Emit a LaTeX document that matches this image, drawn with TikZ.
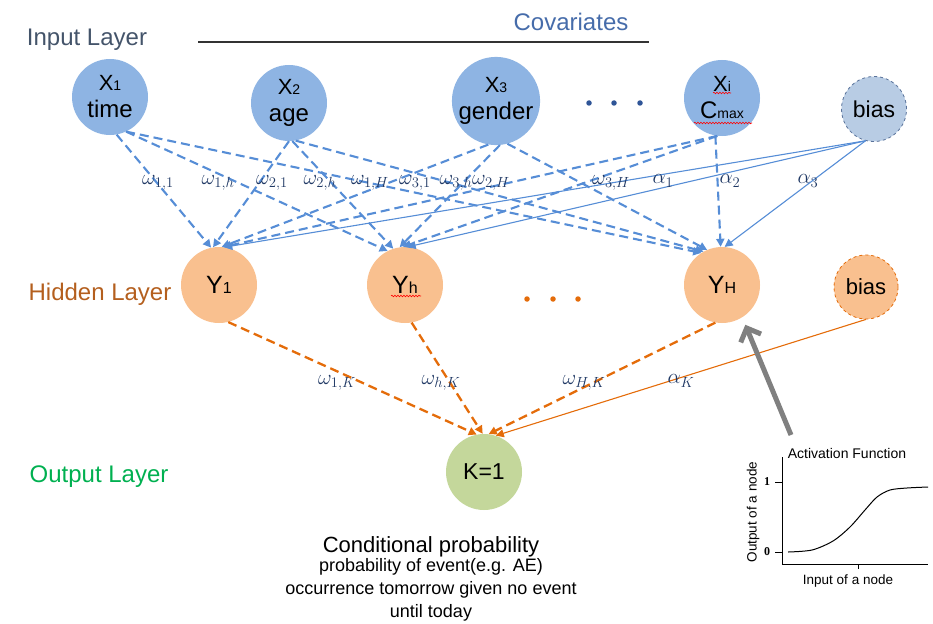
\RequirePackage{fix-cm}
\documentclass[tikz,border=0pt]{standalone}
\usepackage{fontspec}
\setmainfont{Liberation Sans}
\newfontfamily\serifnum{Liberation Serif}
\usetikzlibrary{arrows.meta,decorations.pathmorphing}
\definecolor{inblue}{RGB}{142,180,227}
\definecolor{biasblue}{RGB}{184,204,228}
\definecolor{biasedge}{RGB}{90,115,155}
\definecolor{hidor}{RGB}{249,192,143}
\definecolor{outgreen}{RGB}{196,215,155}
\definecolor{edgeblue}{RGB}{86,141,214}
\definecolor{edgeor}{RGB}{228,108,10}
\definecolor{lblue}{RGB}{31,56,100}
\definecolor{inlayer}{RGB}{68,84,106}
\definecolor{covcol}{RGB}{70,108,170}
\definecolor{hidlayer}{RGB}{180,95,30}
\definecolor{outlayer}{RGB}{0,176,80}
\definecolor{dotblue}{RGB}{47,85,151}
\definecolor{arrgray}{RGB}{128,128,128}
\newcommand\smidx[1]{{\fontsize{14}{14}\selectfont #1}}
\newcommand\smidy[1]{{\fontsize{16}{16}\selectfont #1}}
\newcommand\fs[1]{\fontsize{#1}{#1}\selectfont}
\newcommand\bigX{{\fontsize{22}{22}\selectfont X}}
\tikzset{
  innode/.style={circle, fill=inblue, minimum size=76pt, inner sep=0pt, align=center, font=\fontsize{24}{27}\selectfont},
  biasin/.style={circle, fill=biasblue, draw=biasedge, dashed, line width=0.8pt, minimum size=65pt, inner sep=0pt, font=\fs{23}},
  hidnode/.style={circle, fill=hidor, minimum size=76pt, inner sep=0pt, font=\fs{25}},
  biashid/.style={circle, fill=hidor, draw=edgeor, dashed, line width=0.8pt, minimum size=64pt, inner sep=0pt, font=\fs{22}},
  outnode/.style={circle, fill=outgreen, minimum size=76pt, inner sep=0pt, font=\fs{23}},
  tip/.style={-{Triangle[length=8pt,width=8pt]}},
  ein/.style={edgeblue, line width=2.1pt, dash pattern=on 9pt off 5pt, tip},
  ebias/.style={edgeblue, line width=1.1pt, tip},
  eout/.style={edgeor, line width=2.3pt, dash pattern=on 9pt off 5pt, tip},
  eoutb/.style={edgeor, line width=1.1pt, tip},
  wl/.style={text=lblue, font=\fs{21}, inner sep=0pt},
  layer/.style={anchor=base, font=\fs{24}, inner sep=0pt},
  dotc/.style={circle, inner sep=0pt, minimum size=5.5pt},
  squig/.style={red, line width=0.6pt, decorate, decoration={snake, amplitude=0.8pt, segment length=3pt}},
  plottext/.style={font=\fs{13.5}, inner sep=0pt},
}
\begin{document}
\begin{tikzpicture}[x=1pt,y=-1pt]
\useasboundingbox (0,0) rectangle (933,623);

% layer titles
\node[layer, text=inlayer] (tin) at (87,46) {Input Layer};
\node[layer, text=covcol] (tcov) at (571,31) {Covariates};
\draw[line width=1.2pt, black!80] (198,42) -- (649,42);
\node[layer, text=hidlayer] (thid) at (100,300) {Hidden Layer};
\node[layer, text=outlayer] (tout) at (99,482) {Output Layer};

% input nodes
\node[innode] (x1) at (110,97) {\bigX\smidx{1}\\time};
\node[innode] (x2) at (289,103) {\bigX\smidx{2}\\age};
\node[innode, minimum size=79pt] (x3) at (496,101) {\bigX\smidx{3}\\gender};
\node[innode] (xi) at (722,98) {\bigX\smidx{i}\\C\smidx{max}};
\node[biasin] (bin) at (874,109) {bias};
\node[dotc, fill=dotblue] (d1) at (589,103) {};
\node[dotc, fill=dotblue] (d2) at (614,103) {};
\node[dotc, fill=dotblue] (d3) at (640,103) {};

% hidden nodes
\node[hidnode] (Y1) at (219,285) {Y\smidy{1}};
\node[hidnode] (Yh) at (405,285) {Y\smidy{h}};
\node[hidnode] (YH) at (722,285) {Y\smidy{H}};
\node[biashid] (bh) at (866,287) {bias};
\node[dotc, fill=edgeor] (e1) at (527,299) {};
\node[dotc, fill=edgeor] (e2) at (553,299) {};
\node[dotc, fill=edgeor] (e3) at (578,299) {};

% output
\node[outnode] (K) at (484,472) {K=1};

% spell-check squiggles
\draw[squig] (713,93) -- (731,93);
\draw[squig] (694,123) -- (752,123);
\draw[squig] (391,296) -- (421,296);

% input -> hidden
\draw[ein] (x1.-80) -- (Y1.102);
\draw[ein] (x1.-65) -- (Yh.117);
\draw[ein] (x1.-65) -- (YH.123);
\draw[ein] (x2.-90) -- (Y1.99);
\draw[ein] (x2.-85) -- (Yh.108);
\draw[ein] (x2.-80) -- (YH.119);
\draw[ein] (x3.-100) -- (Y1.86);
\draw[ein] (x3.-85) -- (Yh.98);
\draw[ein] (x3.-75) -- (YH.113);
\draw[ein] (xi.-97) -- (Y1.84);
\draw[ein] (xi.-97) -- (Yh.93);
\draw[ein] (xi.-100) -- (YH.92);
\draw[ebias] (bin.-105) -- (Y1.82);
\draw[ebias] (bin.-105) -- (Yh.86);
\draw[ebias] (bin.-105) -- (YH.86);

% hidden -> output
\draw[eout] (Y1.-76) -- (K.101);
\draw[eout] (Yh.-80) -- (K.92);
\draw[eout] (YH.-100) -- (K.83);
\draw[eoutb] (bh.-90) -- (K.72);

% weight labels
\node[wl] (w11) at (158,183) {$\omega_{1,1}$};
\node[wl] (w1h) at (218,183) {$\omega_{1,h}$};
\node[wl] (w21) at (272,183) {$\omega_{2,1}$};
\node[wl] (w2h) at (320,183) {$\omega_{2,h}$};
\node[wl] (w1H) at (370,183) {$\omega_{1,H}$};
\node[wl] (w31) at (415,183) {$\omega_{3,1}$};
\node[wl] (w3h) at (456,183) {$\omega_{3,h}$};
\node[wl] (w2H) at (491,183) {$\omega_{2,H}$};
\node[wl] (w3H) at (611,183) {$\omega_{3,H}$};
\node[wl] (a1) at (663,181) {$\alpha_1$};
\node[wl] (a2) at (730,181) {$\alpha_2$};
\node[wl] (a3) at (808,181) {$\alpha_3$};
\node[wl] (w1K) at (337,383) {$\omega_{1,K}$};
\node[wl] (whK) at (441,383) {$\omega_{h,K}$};
\node[wl] (wHK) at (584,383) {$\omega_{H,K}$};
\node[wl] (aK) at (681,381) {$\alpha_K$};

% gray activation arrow
\coordinate (gtail) at (791,435);
\draw[arrgray, line width=5pt, -{Straight Barb[length=11pt,width=22pt]}, shorten >=8pt] (gtail) -- (YH.-58);

% activation plot
\draw[line width=0.8pt] (782,457) -- (782,564) -- (928,564);
\draw[line width=0.8pt] (775,482) -- (782,482);
\draw[line width=0.8pt] (775,552) -- (782,552);
\draw[line width=0.8pt] (858,564) -- (858,569);
\draw[line width=1pt] plot[smooth] coordinates {(788,552) (812,550) (833,541) (850,527) (865,510) (877,497) (890,490) (907,488) (928,487)};
\node[plottext, font=\serifnum\bfseries\fs{12}] (t1) at (767,482) {1};
\node[plottext, font=\serifnum\bfseries\fs{12}] (t0) at (767,552) {0};
\node[plottext, font=\fs{14}] (atitle) at (847,453) {Activation Function};
\node[plottext, rotate=90] (ylab) at (753,512) {Output of a node};
\node[plottext] (xlab) at (848,581) {Input of a node};

% bottom text
\node[anchor=base, font=\fs{22}, inner sep=0pt] (cp) at (431,552) {Conditional probability};
\node[anchor=base, font=\fs{18}, inner sep=0pt] (cp2) at (431,571) {probability of event(e.g. AE)};
\node[anchor=base, font=\fs{18}, inner sep=0pt] (cp3) at (431,594) {occurrence tomorrow given no event};
\node[anchor=base, font=\fs{18}, inner sep=0pt] (cp4) at (431,617) {until today};
\end{tikzpicture}
\end{document}
